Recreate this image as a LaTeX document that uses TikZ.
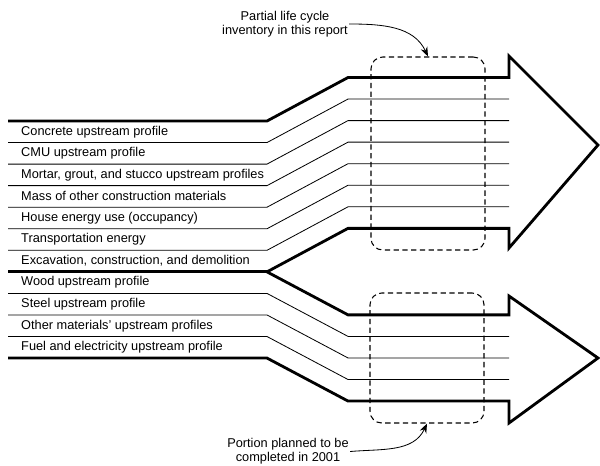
\documentclass[tikz,border=0pt]{standalone}
\usepackage{fontspec}
\setmainfont{Liberation Sans}
\usetikzlibrary{arrows.meta}
\newcommand{\gap}{21.55}

\begin{document}
\begin{tikzpicture}[x=0.03cm,y=-0.03cm,draw/.append style={black},
  thinline/.style={line width=0.7pt},
  thickline/.style={line width=2.4pt,line join=miter},
  dashbox/.style={draw,dashed,dash pattern=on 4.5pt off 3pt,line width=0.9pt,rounded corners=10pt,minimum width=3.42cm},
  note/.style={align=center,inner sep=1pt,font=\fontsize{10.9}{11.9}\selectfont},
  item/.style={anchor=west,inner sep=0pt,font=\fontsize{10.9}{12}\selectfont}]
  \useasboundingbox (0,0) rectangle (600,465);
  \foreach\k in {0,...,11} {
     \coordinate (l\k) at (8,{121+\gap*\k});
     \coordinate (b\k) at (267,{121+\gap*\k});
   }
  \foreach\k in {0,...,7} {
     \coordinate (u\k) at (348,{77.5+\gap*\k});
     \coordinate (ue\k) at (509,{77.5+\gap*\k});
   }
  \foreach\k in {7,...,11} {
     \coordinate (d\k) at (348,{164+\gap*\k});
     \coordinate (de\k) at (509,{164+\gap*\k});
   }
  \coordinate (atop) at (509,56);\coordinate (atip) at (598,145);\coordinate (abot) at (509,248);
  \coordinate (btop) at (509,296);\coordinate (btip) at (598,358);\coordinate (bbot) at (509,423);
  \foreach\k in {1,...,6} \draw[thinline](l\k)--(b\k)--(u\k)--(ue\k);
  \foreach\k in {8,9,10} \draw[thinline](l\k)--(b\k)--(d\k)--(de\k);
  \draw[thickline](l0)--(b0)--(u0)--(ue0)--(atop)--(atip)--(abot)--(ue7)--(u7)--(b7)
     --(d7)--(de7)--(btop)--(btip)--(bbot)--(de11)--(d11)--(b11)--(l11);
  \draw[thickline](l7)--(b7);
  \foreach\k/\txt in {1/Concrete upstream profile,2/CMU upstream profile,
     3/{Mortar, grout, and stucco upstream profiles},4/Mass of other construction materials,
     5/House energy use (occupancy),6/Transportation energy,
     7/{Excavation, construction, and demolition},8/Wood upstream profile,
     9/Steel upstream profile,10/Other materials' upstream profiles,
     11/Fuel and electricity upstream profile}
     \node[item](item\k) at (21,{121+\gap*(\k-0.5)}){\txt};
  \node[dashbox,minimum height=5.79cm](partbox) at (428,153.5){};
  \node[dashbox,minimum height=3.9cm](planbox) at (427,358){};
  \node[note](partnote) at (285,24){Partial life cycle\\inventory in this report};
  \node[note](plannote) at (288,451.5){Portion planned to be\\completed in 2001};
  \draw[thinline,-{Stealth[length=8pt,width=6pt]}](partnote.east) to[out=0,in=115] (partbox.north);
  \draw[thinline,-{Stealth[length=8pt,width=6pt]}](plannote.east) to[out=5,in=-115] (planbox.south);
\end{tikzpicture}
\end{document}
